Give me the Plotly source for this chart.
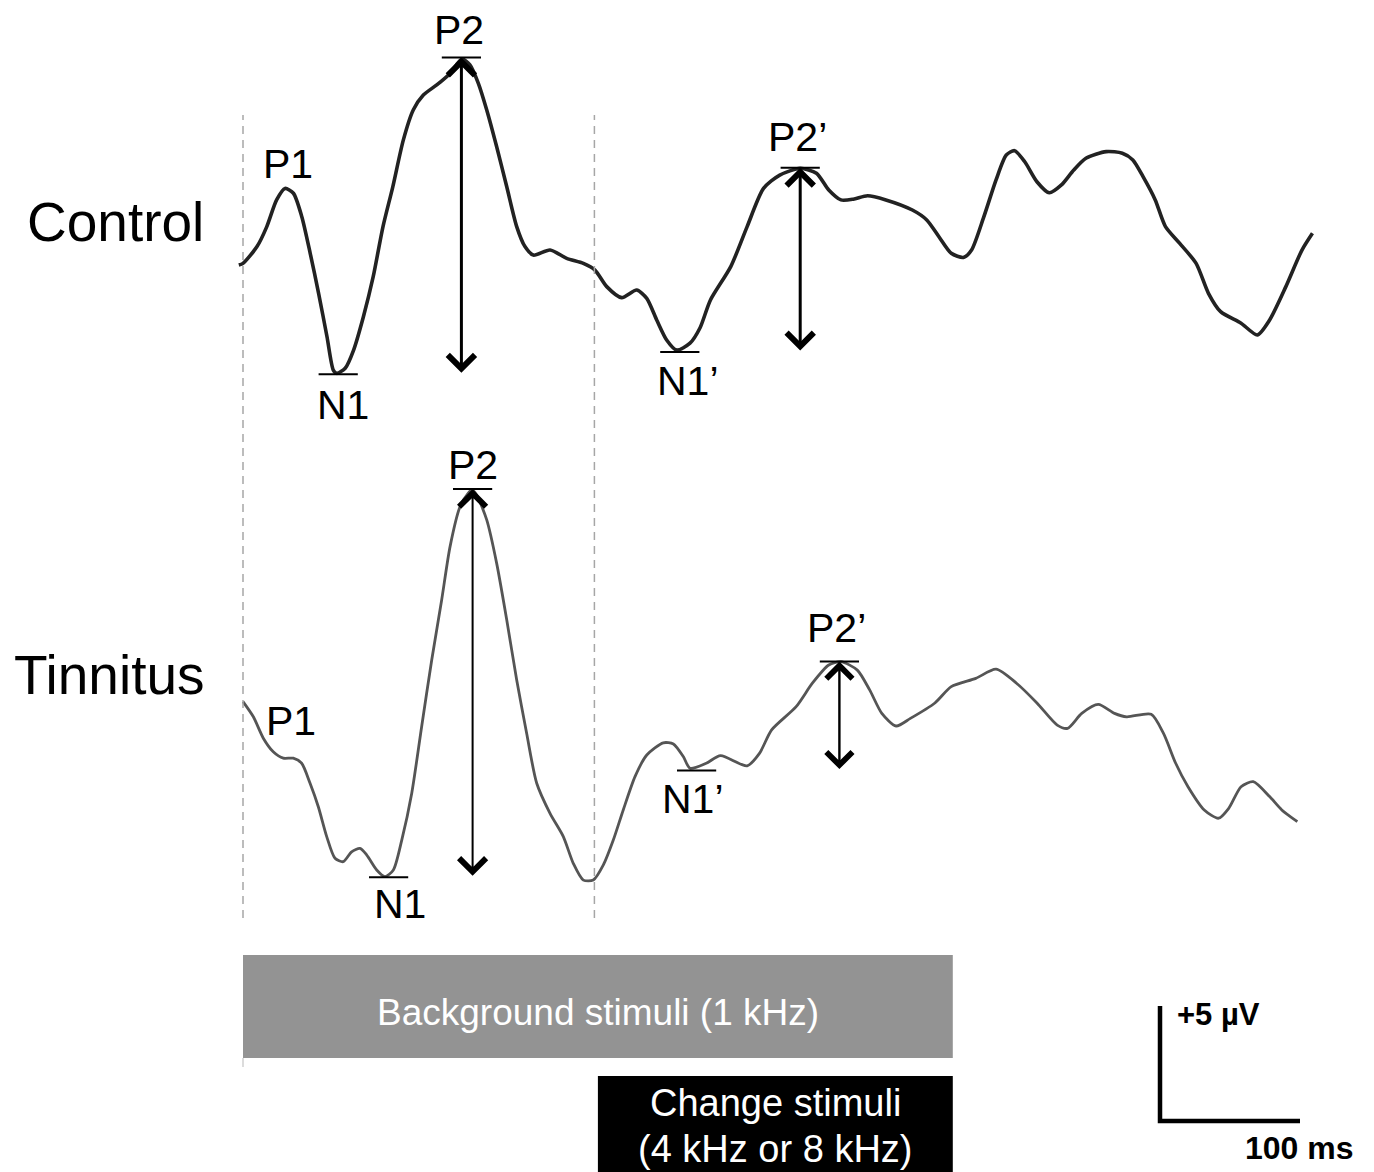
import plotly.graph_objects as go

# ---------------- data ----------------
control_ms = [-3, 0, 10, 17, 24, 30, 36, 42, 48, 54,
              60, 64.5, 67, 73, 79, 86, 93, 100, 107, 114.5,
              121.6, 128.8, 138.4, 147.9, 156.4, 162.1, 168.1, 174.1, 181.2, 188.4,
              195.5, 201.4, 207.4, 219.3, 231.2, 243.1, 251.4, 259.8, 270.5, 281.2,
              288.4, 295.5, 302.6, 309.8, 319.3, 326.4, 333.9, 348.4, 360.1, 371.8,
              383.4, 398, 409.6, 418.4, 427.1, 435.9, 446.1, 459.2, 478.1, 488.4,
              497.1, 505.9, 514.6, 520.4, 529.2, 537.9, 545.2, 551.1, 558.4, 567.1,
              575.9, 584.6, 593.4, 602.1, 616.6, 628.1, 635.6, 642.9, 651.6, 658.9,
              669.1, 680.8, 689.6, 698.3, 712.9, 724.5, 733.3, 744.9, 756.4, 763.9]
control_uv = [0.0, 0.07, 0.80, 1.67, 2.83, 3.33, 3.12, 2.10, 0.51, -1.23,
              -3.12, -4.57, -4.71, -4.49, -3.70, -2.25, -0.51, 1.67, 3.40, 5.43,
              6.74, 7.39, 7.83, 8.33, 8.95, 8.70, 7.90, 6.74, 5.14, 3.40,
              1.67, 0.80, 0.43, 0.65, 0.29, 0.07, -0.22, -0.94, -1.42, -1.09,
              -1.45, -2.39, -3.26, -3.70, -3.40, -2.74, -1.52, -0.07, 1.67, 3.33,
              3.91, 4.20, 3.99, 3.26, 2.83, 2.86, 3.01, 2.83, 2.39, 1.96,
              1.23, 0.51, 0.33, 0.65, 2.10, 3.70, 4.78, 4.97, 4.49, 3.62,
              3.14, 3.48, 4.13, 4.64, 4.93, 4.86, 4.57, 3.84, 2.83, 1.67,
              0.94, 0.07, -1.23, -2.03, -2.53, -3.04, -2.39, -0.94, 0.65, 1.38]

tinnitus_ms = [0, 7.4, 14.5, 21.6, 28.8, 35.9, 41.9, 47.9, 53.8, 59.8,
               65.7, 71.6, 77.6, 83.6, 88.4, 95.5, 101.4, 107.4, 113.4, 120.5,
               127.6, 134.8, 141.9, 147.9, 155, 160.9, 163.6, 166.9, 174.1, 181.2,
               188.4, 195.5, 202.6, 209.8, 219.3, 228.8, 235.9, 243.1, 250.2, 257.4,
               264.5, 271.6, 280, 288.4, 300.2, 307.4, 314.5, 319.3, 330.9, 341.1,
               360.1, 368.9, 377.6, 395.1, 406.7, 418.4, 427.1, 438.8, 447.6, 456.3,
               466.5, 476.7, 494.2, 505.9, 523.4, 537.9, 552.5, 567.1, 581.6, 589,
               599.1, 610.9, 622.5, 631.2, 648.7, 657.5, 666.2, 675, 686.6, 696.9,
               704.1, 712.9, 721.6, 733.3, 742, 753.1]
tinnitus_uv = [0.06, -0.60, -1.53, -2.12, -2.40, -2.40, -2.62, -3.49, -4.51, -5.81,
               -6.75, -6.90, -6.47, -6.32, -6.61, -7.26, -7.55, -7.26, -5.96, -3.93,
               -1.03, 1.87, 4.48, 6.80, 8.53, 9.12, 9.26, 9.04, 7.96, 6.07,
               3.61, 1.00, -1.32, -3.49, -4.80, -5.81, -6.97, -7.70, -7.70, -7.04,
               -5.96, -4.65, -3.20, -2.26, -1.73, -1.78, -2.33, -2.84, -2.62, -2.29,
               -2.73, -2.19, -1.17, -0.16, 0.86, 1.65, 1.80, 1.43, 0.57, -0.45,
               -1.00, -0.67, 0.00, 0.71, 1.07, 1.47, 0.86, 0.00, -0.96, -1.10,
               -0.45, -0.06, -0.45, -0.60, -0.49, -1.32, -2.62, -3.64, -4.65, -5.01,
               -4.58, -3.64, -3.42, -4.07, -4.65, -5.16]

peak_names = ["P1", "N1", "P2", "N1\u2019", "P2\u2019"]
control_peak_ms = [30, 68, 156, 312, 398]
control_peak_uv = [3.35, -4.75, 9.02, -3.78, 4.23]
tinnitus_peak_ms = [34, 104, 164, 324, 426]
tinnitus_peak_uv = [-2.40, -7.58, 9.30, -2.94, 1.80]

group_names = ["Control", "Tinnitus"]
stim_labels = ["Background stimuli (1 kHz)", "Change stimuli", "(4 kHz or 8 kHz)"]
stim_on_ms = [0, 253.5]
stim_off_ms = [507, 507]
epoch_marks_ms = [0, 251]
scale_ms = 100
scale_uv = 5
scale_labels = ["+5 \u00b5V", "100 ms"]

# ---------------- layout constants (pixels) ----------------
W, H = 1374, 1172
PX_MS, PX_UV = 1.4, 23.0
X0 = 243
FONT = "Liberation Sans, Arial, sans-serif"


def py(p):
    return 1 - p / H


def yrange(base, top, bot):
    return [(base - bot) / PX_UV, (base - top) / PX_UV]


fig = go.Figure()
fig.add_trace(go.Scatter(x=control_ms, y=control_uv, mode="lines", yaxis="y",
                         line=dict(color="#222222", width=3.6, shape="spline", smoothing=0.7),
                         hoverinfo="skip"))
fig.add_trace(go.Scatter(x=tinnitus_ms, y=tinnitus_uv, mode="lines", yaxis="y2",
                         line=dict(color="#555555", width=2.8, shape="spline", smoothing=0.7),
                         hoverinfo="skip"))
# scale bar (drawn in its own µV axis, same px/µV)
fig.add_trace(go.Scatter(x=[655, 655, 655 + scale_ms], y=[scale_uv, 0, 0], mode="lines",
                         yaxis="y3", line=dict(color="black", width=4.5), hoverinfo="skip"))

shapes = []
annotations = []


def note(**kw):
    kw.setdefault("xanchor", "center")
    kw.setdefault("yanchor", "middle")
    kw.setdefault("showarrow", False)
    annotations.append(kw)


# dashed epoch markers
for t in epoch_marks_ms:
    shapes.append(dict(type="line", xref="x", yref="paper", x0=t, x1=t,
                       y0=py(918), y1=py(115),
                       line=dict(color="#a6a6a6", width=1.5, dash="8px,6px")))
shapes.append(dict(type="line", xref="x", yref="paper", x0=0, x1=0, y0=py(1058), y1=py(1067),
                   line=dict(color="#d0d0d0", width=1.5)))

# stimulus bars
shapes.append(dict(type="rect", xref="x", yref="paper", x0=stim_on_ms[0], x1=stim_off_ms[0],
                   y0=py(1058), y1=py(955), fillcolor="#939393", line=dict(width=0), layer="below"))
shapes.append(dict(type="rect", xref="x", yref="paper", x0=stim_on_ms[1], x1=stim_off_ms[1],
                   y0=-0.01, y1=py(1076), fillcolor="#000000", line=dict(width=0), layer="below"))
note(x=(stim_on_ms[0] + stim_off_ms[0]) / 2, y=py(1012), xref="x", yref="paper",
     text=stim_labels[0], font=dict(family=FONT, size=37, color="white"))
note(x=(stim_on_ms[1] + stim_off_ms[1]) / 2, y=py(1103), xref="x", yref="paper",
     text=stim_labels[1], font=dict(family=FONT, size=38, color="white"))
note(x=(stim_on_ms[1] + stim_off_ms[1]) / 2, y=py(1149), xref="x", yref="paper",
     text=stim_labels[2], font=dict(family=FONT, size=38, color="white"))

# scale labels
note(x=1218 / W, y=py(1014), xref="paper", yref="paper", text="<b>%s</b>" % scale_labels[0],
     font=dict(family=FONT, size=31, color="black"))
note(x=1299 / W, y=py(1148), xref="paper", yref="paper", text="<b>%s</b>" % scale_labels[1],
     font=dict(family=FONT, size=32, color="black"))

# group labels
note(x=206 / W, y=py(222), xref="paper", yref="paper", xanchor="right",
     text=group_names[0], font=dict(family=FONT, size=55, color="black"))
note(x=207 / W, y=py(675), xref="paper", yref="paper", xanchor="right",
     text=group_names[1], font=dict(family=FONT, size=55, color="black"))

# peak labels, marker ticks, N1-P2 arrows
label_shift = {
    "y": [(3, 24), (5, -31), (-2, 27.5), (8, -29), (-3, 31)],
    "y2": [(0, 37), (11, -27), (0, 24), (-4, -28), (-3, 34)],
}
arrow_style = {"y": [(3, 1.75), (3, 1.75)], "y2": [(2, 2.6), (2.4, 2.1)]}
half = 14
for yref, pms, puv in (("y", control_peak_ms, control_peak_uv),
                       ("y2", tinnitus_peak_ms, tinnitus_peak_uv)):
    for i, name in enumerate(peak_names):
        dx, dy = label_shift[yref][i]
        note(x=pms[i], y=puv[i], xref="x", yref=yref, text=name, xshift=dx, yshift=dy,
             font=dict(family=FONT, size=41, color="black"))
        if i > 0:
            shapes.append(dict(type="line", xref="x", yref=yref, x0=pms[i] - half, x1=pms[i] + half,
                               y0=puv[i], y1=puv[i], line=dict(color="black", width=2)))
    for k, (ip, inn) in enumerate(((2, 1), (4, 3))):
        w, s = arrow_style[yref][k]
        annotations.append(dict(x=pms[ip], y=puv[ip], ax=pms[ip], ay=puv[inn],
                                xref="x", yref=yref, axref="x", ayref=yref, text="",
                                showarrow=True, arrowside="end+start", arrowhead=4, startarrowhead=4,
                                arrowsize=s, startarrowsize=s, arrowwidth=w, arrowcolor="black",
                                standoff=0, startstandoff=0))

xr = [-X0 / PX_MS, (W - X0) / PX_MS]
ax_off = dict(visible=False, showgrid=False, zeroline=False, fixedrange=True)
fig.update_layout(
    width=W, height=H, margin=dict(l=0, r=0, t=0, b=0),
    paper_bgcolor="white", plot_bgcolor="white", showlegend=False,
    xaxis=dict(range=xr, domain=[0, 1], **ax_off),
    yaxis=dict(domain=[py(440), 1], range=yrange(265, 0, 440), anchor="x", **ax_off),
    yaxis2=dict(domain=[py(940), py(440)], range=yrange(703, 440, 940), anchor="x", **ax_off),
    yaxis3=dict(domain=[0, py(940)], range=yrange(1121, 940, 1172), anchor="x", **ax_off),
    shapes=shapes, annotations=annotations,
)
fig.write_html("out.html")
